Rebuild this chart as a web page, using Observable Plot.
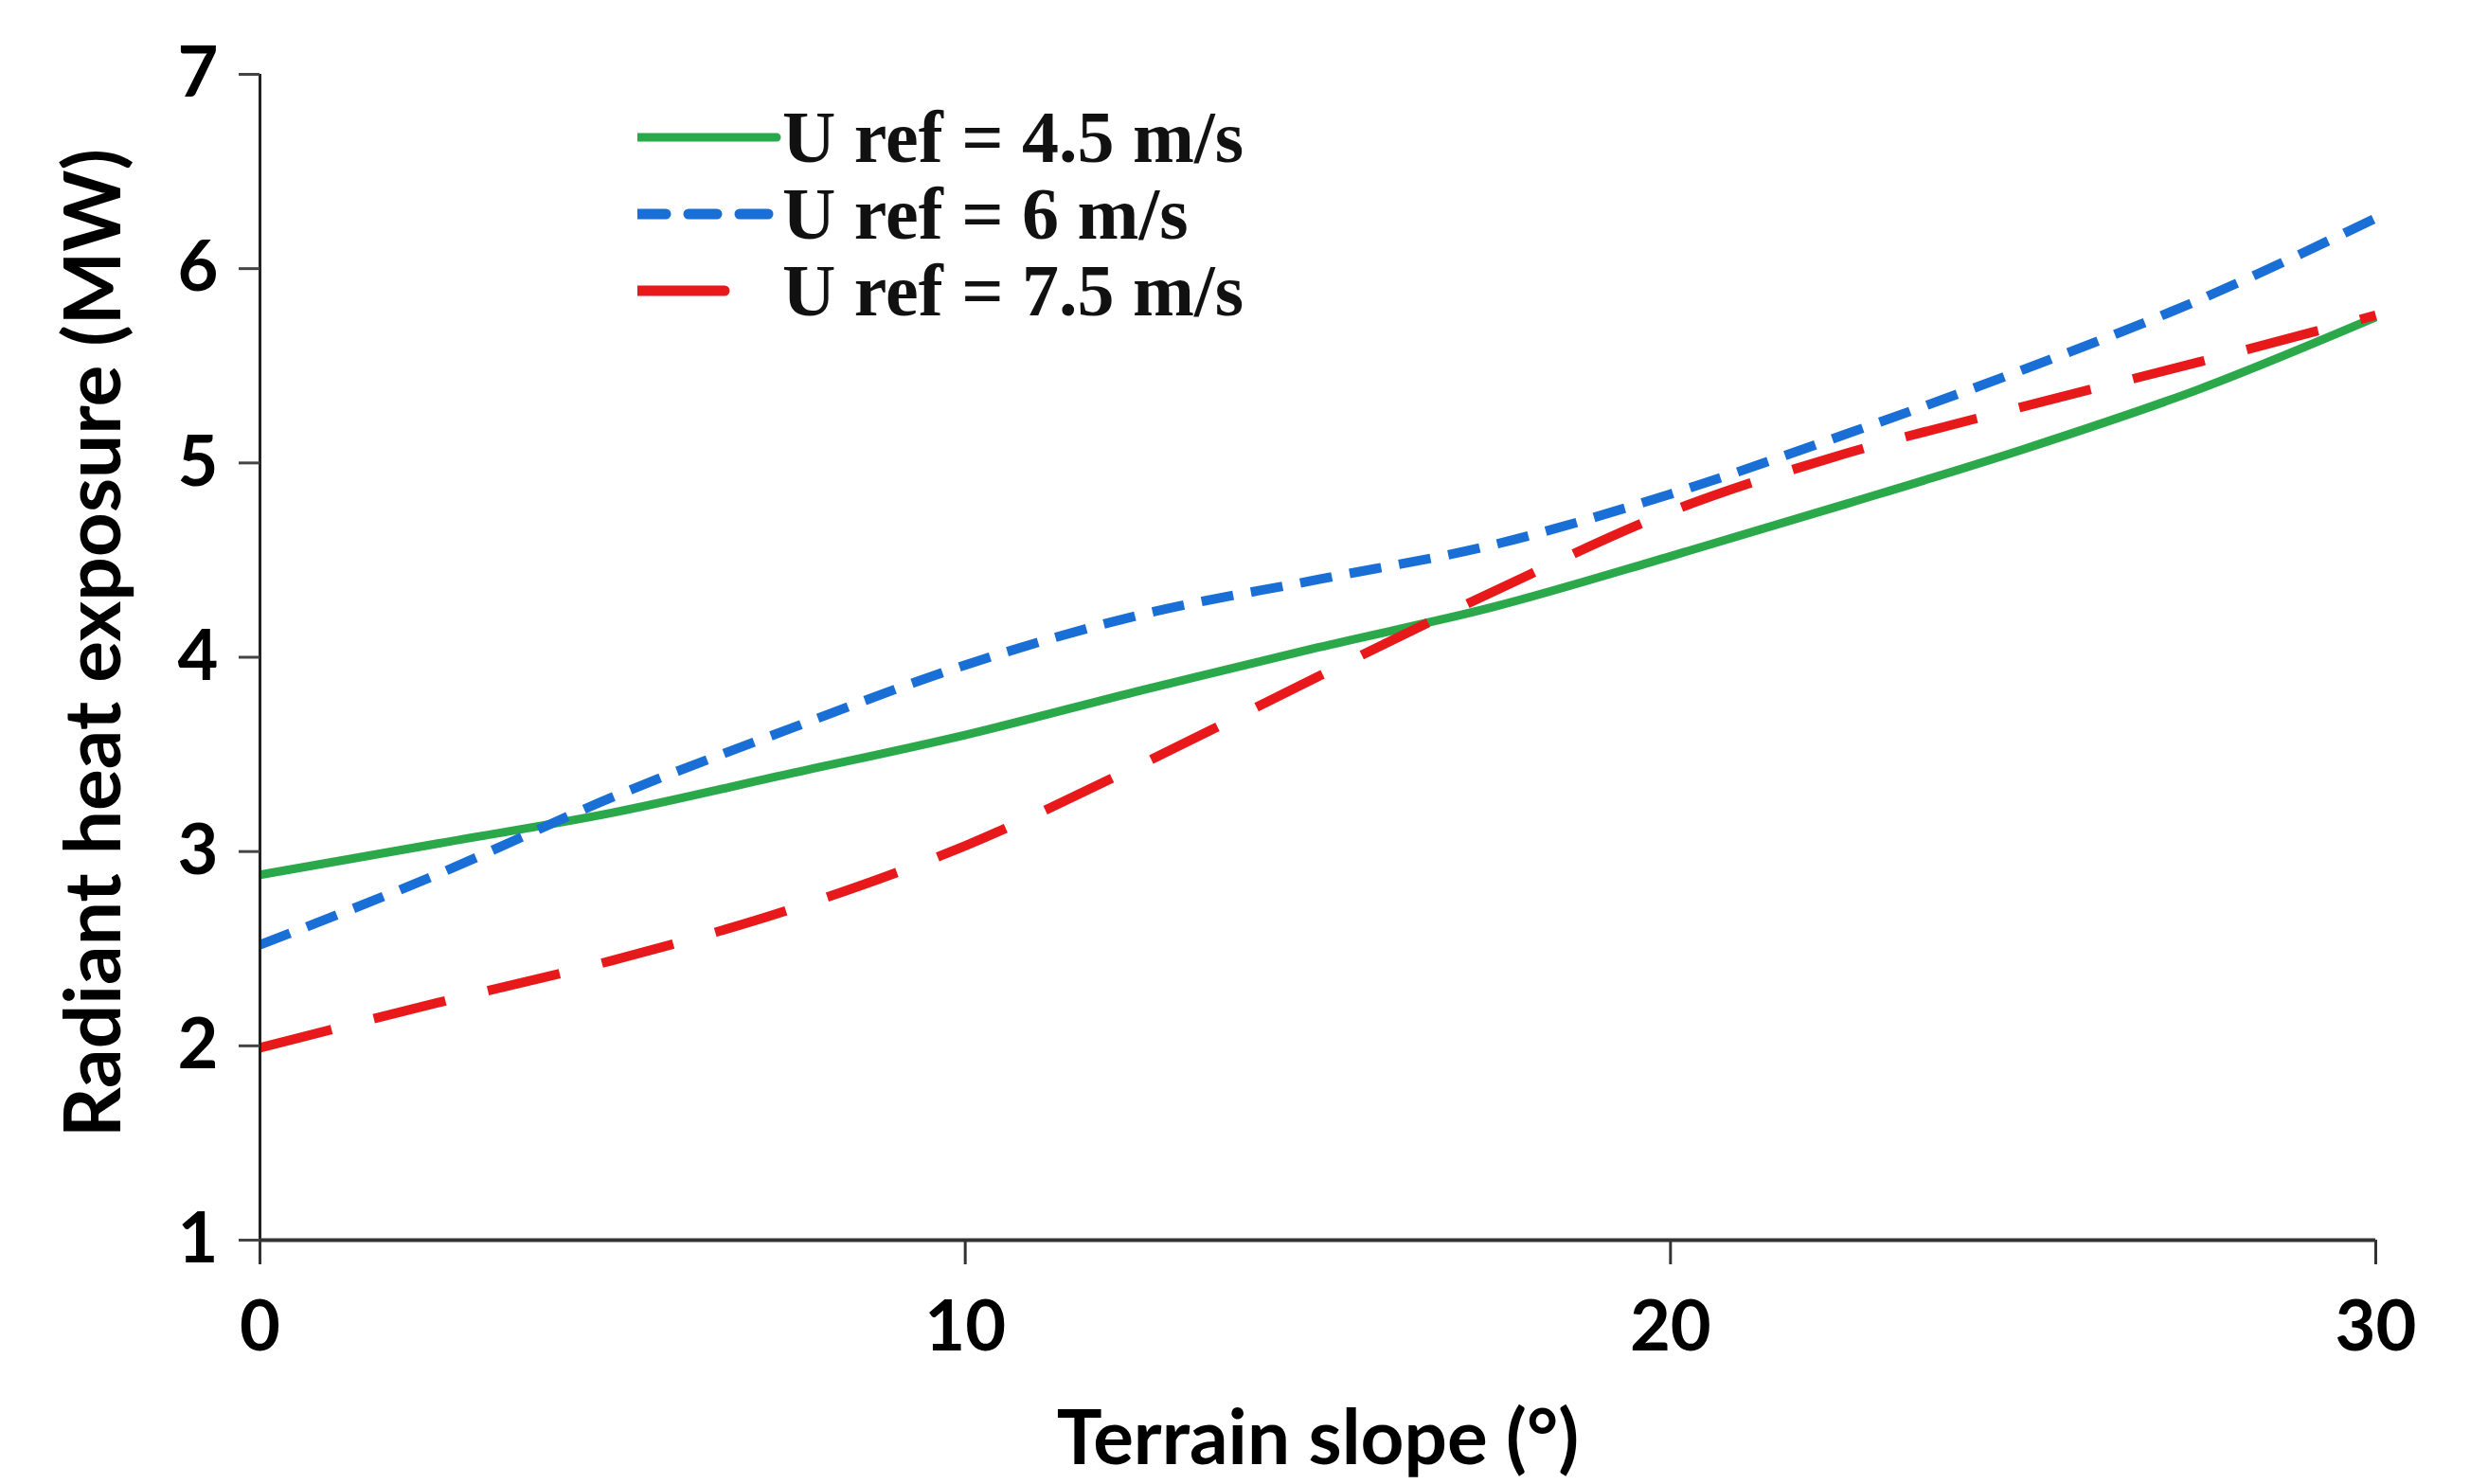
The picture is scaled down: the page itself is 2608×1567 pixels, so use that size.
<!DOCTYPE html>
<html>
<head>
<meta charset="utf-8">
<script src="https://cdn.jsdelivr.net/npm/d3@7"></script>
<script src="https://cdn.jsdelivr.net/npm/@observablehq/plot@0.6"></script>
<style>
  html, body { margin: 0; padding: 0; background: #fff; }
  #wrap { position: relative; width: 2608px; height: 1567px; }
  #legend { position: absolute; left: 673px; top: 104px; font-family: "Liberation Serif", "Times New Roman", serif; font-weight: bold; font-size: 78px; color: #111; letter-spacing: 0px; }
  #legend .row { display: flex; align-items: center; height: 81px; }
  #legend svg { width: 153px; height: 40px; flex: none; }
  #legend span { white-space: nowrap; }
</style>
</head>
<body>
<div id="wrap"><div id="legend"></div></div>
<script>
const slope = [0, 2.5, 5, 7.5, 10, 12.5, 15, 17.5, 20, 22.5, 25, 27.5, 30];
const u45 = [2.88, 3.04, 3.20, 3.40, 3.60, 3.83, 4.05, 4.26, 4.52, 4.79, 5.07, 5.38, 5.75];
const u6  = [2.52, 2.88, 3.28, 3.63, 3.96, 4.22, 4.40, 4.58, 4.84, 5.15, 5.48, 5.84, 6.26];
const u75 = [1.99, 2.22, 2.44, 2.70, 3.03, 3.45, 3.90, 4.34, 4.75, 5.05, 5.29, 5.52, 5.76];
const seriesNames = ["U ref = 4.5 m/s", "U ref = 6 m/s", "U ref = 7.5 m/s"];
const seriesValues = [u45, u6, u75];
const colors = ["#2aa84a", "#1a6fd6", "#e8191b"];
const dashes = [null, "34,19", "78,46"];
const widths = [9, 10, 10];
const xTicks = [0, 10, 20, 30];
const yTicks = [1, 2, 3, 4, 5, 6, 7];

const rows = seriesNames.flatMap((name, i) => slope.map((s, j) => ({series: name, slope: s, value: seriesValues[i][j]})));

const font = "Lato, 'Open Sans', sans-serif";
const lineMarks = seriesNames.map((name, i) =>
  Plot.line(rows.filter(d => d.series === name), {
    x: "slope", y: "value", stroke: colors[i], strokeWidth: widths[i],
    strokeDasharray: dashes[i] || undefined, curve: "monotone-x", strokeLinecap: "butt"
  })
);

const chart = Plot.plot({
  width: 2608, height: 1567,
  marginLeft: 274, marginRight: 100, marginTop: 78, marginBottom: 258,
  x: {domain: [0, 30]},
  y: {domain: [1, 7]},
  style: {background: "#fff", fontFamily: font},
  marks: [
    ...lineMarks,
    Plot.ruleX([0], {y1: 1, y2: 7, stroke: "#222", strokeWidth: 3}),
    Plot.ruleY([1], {x1: 0, x2: 30, stroke: "#333", strokeWidth: 4}),
    Plot.axisX({ticks: xTicks, tickSize: 26, tickPadding: 38, tickFormat: d => String(d), fontSize: 74, fontWeight: "bold", stroke: "#333", strokeWidth: 3, fill: "#000", label: null}),
    Plot.axisY({ticks: yTicks, tickSize: 22, tickPadding: 22, tickFormat: d => String(d), fontSize: 74, fontWeight: "bold", stroke: "#444", strokeWidth: 3, fill: "#000", label: null}),
    Plot.text(["Terrain slope (°)"], {frameAnchor: "bottom", dy: 211, fontSize: 80, fontWeight: "bold", fill: "#000", lineAnchor: "middle"}),
    Plot.text(["Radiant heat exposure (MW)"], {frameAnchor: "left", textAnchor: "middle", dx: -174, dy: -15, rotate: -90, fontSize: 82, fontWeight: "bold", fill: "#000", lineAnchor: "middle"})
  ]
});
document.getElementById("wrap").prepend(chart);

const legend = document.getElementById("legend");
seriesNames.forEach((name, i) => {
  const row = document.createElement("div");
  row.className = "row";
  const ns = "http://www.w3.org/2000/svg";
  const svg = document.createElementNS(ns, "svg");
  const ln = document.createElementNS(ns, "line");
  ln.setAttribute("x1", 0); ln.setAttribute("y1", 20);
  ln.setAttribute("x2", i === 2 ? 92 : 147); ln.setAttribute("y2", 20);
  ln.setAttribute("stroke", colors[i]);
  ln.setAttribute("stroke-width", i === 0 ? 9 : 11);
  ln.setAttribute("stroke-linecap", "round");
  if (i === 1) ln.setAttribute("stroke-dasharray", "30,24");
  svg.appendChild(ln);
  row.appendChild(svg);
  const sp = document.createElement("span");
  sp.textContent = name;
  row.appendChild(sp);
  legend.appendChild(row);
});
</script>
</body>
</html>
